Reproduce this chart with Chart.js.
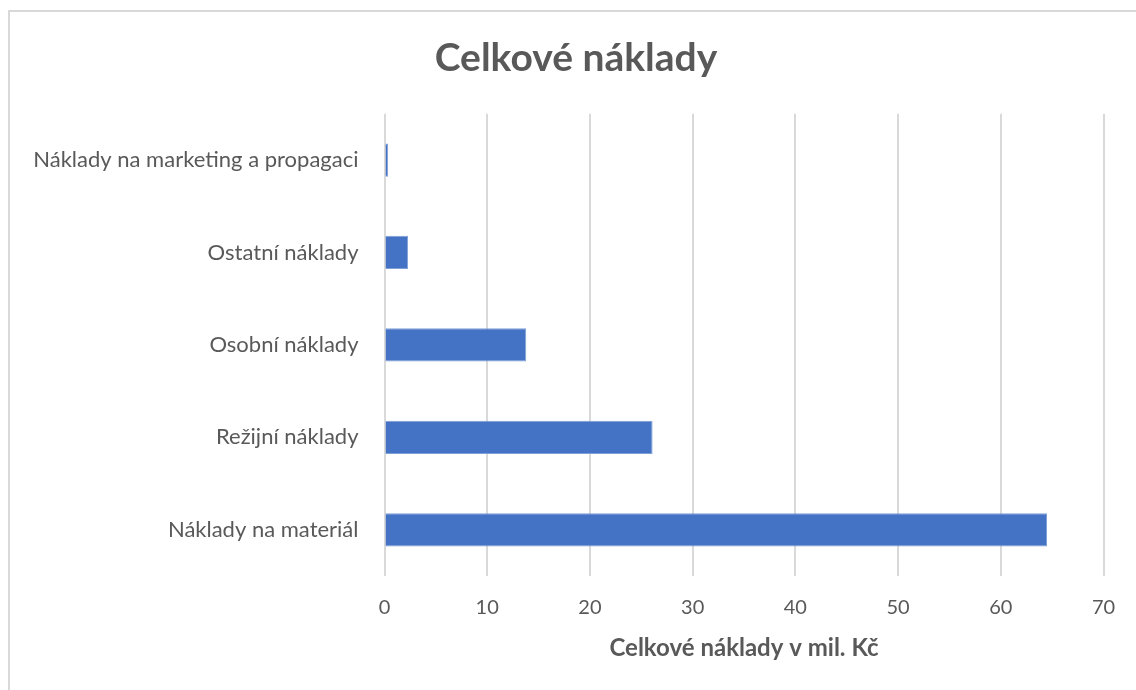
<!DOCTYPE html>
<html>
<head>
<meta charset="utf-8">
<script src="https://cdn.jsdelivr.net/npm/chart.js@4"></script>
<style>
    body { margin: 0; background: #ffffff; }
    #wrap { width: 1136px; height: 690px; position: relative; }
</style>
</head>
<body>
<div id="wrap"><canvas id="costChart"></canvas></div>
<script>
// data
const categories = [
    "Náklady na marketing a propagaci",
    "Ostatní náklady",
    "Osobní náklady",
    "Režijní náklady",
    "Náklady na materiál"
];
const costs = [0.35, 2.3, 13.8, 26.1, 64.5];
const xTicks = [0, 10, 20, 30, 40, 50, 60, 70];

const textColor = "#595959";
const fontFamily = "Lato, 'Open Sans', sans-serif";

// light frame round the chart, like the Excel chart area
const framePlugin = {
    id: "frame",
    beforeDraw(chart) {
        const ctx = chart.ctx;
        ctx.save();
        ctx.strokeStyle = "#d9d9d9";
        ctx.lineWidth = 2;
        ctx.strokeRect(9, 11, 1200, 800);
        ctx.restore();
    }
};

const ctx = document.querySelector("#costChart").getContext("2d");

new Chart(ctx, {
    type: "bar",
    data: {
        labels: categories,
        datasets: [{
            data: costs,
            backgroundColor: "#4472C4",
            borderColor: "#7f9fd6",
            borderWidth: 1,
            categoryPercentage: 0.36,
            barPercentage: 1
        }]
    },
    options: {
        indexAxis: "y",
        responsive: true,
        maintainAspectRatio: false,
        animation: false,
        layout: {
            padding: { top: 10, right: 0, bottom: 27, left: 16 }
        },
        plugins: {
            legend: { display: false },
            tooltip: { enabled: false },
            title: {
                display: true,
                text: "Celkové náklady",
                color: textColor,
                font: { family: fontFamily, size: 39, weight: "bold" },
                padding: { top: 25, bottom: 32 }
            }
        },
        scales: {
            x: {
                min: 0,
                max: 70,
                afterBuildTicks(scale) {
                    scale.ticks = xTicks.map(v => ({ value: v }));
                },
                afterFit(scale) {
                    scale.height = 87;
                },
                grid: {
                    color: "#d9d9d9",
                    lineWidth: 2,
                    drawTicks: false
                },
                border: { display: false },
                ticks: {
                    color: textColor,
                    padding: 20,
                    font: { family: fontFamily, size: 20 }
                },
                title: {
                    display: true,
                    text: "Celkové náklady v mil. Kč",
                    color: textColor,
                    font: { family: fontFamily, size: 24, weight: "bold" },
                    padding: { top: 13, bottom: 0 }
                }
            },
            y: {
                afterFit(scale) {
                    scale.width = 368.5;
                },
                grid: { display: false, drawTicks: false },
                border: { display: false },
                ticks: {
                    color: textColor,
                    padding: 26,
                    font: { family: fontFamily, size: 22 }
                }
            },
            // empty right-hand gutter so the plot ends at 70 like the original
            yRight: {
                type: "category",
                axis: "y",
                position: "right",
                afterFit(scale) {
                    scale.width = 32.5;
                },
                grid: { display: false, drawTicks: false },
                border: { display: false },
                ticks: { display: false }
            }
        }
    },
    plugins: [framePlugin]
});
</script>
</body>
</html>
